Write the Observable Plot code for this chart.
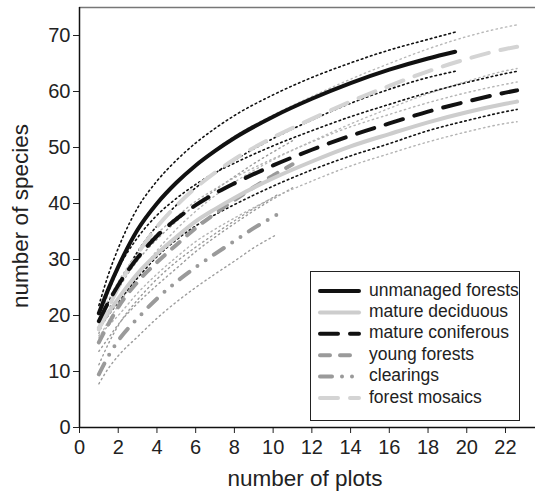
<!DOCTYPE html>
<html><head><meta charset="utf-8">
<script src="https://cdn.jsdelivr.net/npm/d3@7"></script>
<script src="https://cdn.jsdelivr.net/npm/@observablehq/plot@0.6"></script>
<style>
html,body{margin:0;padding:0;background:#fff;}
#chart{width:535px;height:493px;}
</style></head><body><div id="chart"></div>
<script>
// ---- data ----
const xTicks = [0, 2, 4, 6, 8, 10, 12, 14, 16, 18, 20, 22];
const yTicks = [0, 10, 20, 30, 40, 50, 60, 70];
const xLabel = "number of plots";
const yLabel = "number of species";

const seriesNames = ["unmanaged forests", "mature deciduous", "mature coniferous", "young forests", "clearings", "forest mosaics"];

const xUnmanaged = [1, 1.5, 2, 3, 4, 5, 6, 7, 8, 10, 12, 14, 16, 18, 19.4];
const xFull      = [1, 1.5, 2, 3, 4, 5, 6, 7, 8, 10, 12, 14, 16, 18, 20, 22, 22.6];
const xYoung     = [1, 1.5, 2, 3, 4, 5, 6, 7, 8, 9, 10, 11];
const xClearings = [1, 1.5, 2, 3, 4, 5, 6, 7, 8, 9, 10, 10.2];

const unmanagedMean = [20.4, 24.8, 28.7, 35.3, 40.0, 43.7, 46.8, 49.4, 51.7, 55.5, 58.7, 61.5, 63.9, 65.9, 67.1];
const unmanagedHi   = [21.8, 27.4, 32.0, 39.2, 44.0, 47.7, 50.8, 53.4, 55.7, 59.4, 62.5, 65.1, 67.4, 69.3, 70.6];
const unmanagedLo   = [19.0, 22.4, 25.4, 31.4, 36.0, 39.7, 42.8, 45.4, 47.7, 51.6, 54.9, 57.9, 60.4, 62.5, 63.6];

const deciduousMean = [17.8, 20.5, 23.0, 27.5, 31.0, 34.0, 36.8, 39.0, 41.0, 44.5, 47.5, 50.2, 52.4, 54.5, 56.3, 57.8, 58.2];
const deciduousHi   = [19.2, 22.8, 26.0, 31.0, 34.6, 37.6, 40.4, 42.6, 44.6, 48.0, 51.0, 53.7, 55.9, 58.0, 59.8, 61.3, 61.7];
const deciduousLo   = [16.4, 18.2, 20.0, 24.0, 27.4, 30.4, 33.2, 35.4, 37.4, 41.0, 44.0, 46.7, 48.9, 51.0, 52.8, 54.3, 54.6];

const coniferousMean = [19.0, 22.4, 25.4, 30.3, 34.2, 37.2, 39.7, 41.8, 43.6, 46.8, 49.6, 52.1, 54.3, 56.4, 58.2, 59.8, 60.2];
const coniferousHi   = [20.4, 24.7, 28.4, 33.9, 37.9, 40.9, 43.4, 45.5, 47.2, 50.3, 53.0, 55.5, 57.7, 59.8, 61.6, 63.2, 63.6];
const coniferousLo   = [17.6, 20.1, 22.4, 26.7, 30.5, 33.5, 36.0, 38.0, 39.8, 43.1, 46.0, 48.5, 50.7, 53.0, 54.8, 56.4, 56.8];

const youngMean = [15.2, 18.5, 21.5, 26.0, 29.5, 32.6, 35.6, 38.2, 40.6, 42.9, 45.0, 47.0];
const youngHi   = [16.8, 21.0, 24.6, 29.8, 33.6, 36.8, 39.8, 42.4, 44.8, 47.1, 49.2, 51.2];
const youngLo   = [13.6, 16.0, 18.4, 22.2, 25.4, 28.4, 31.4, 34.0, 36.4, 38.7, 40.8, 42.8];

const clearingsMean = [9.5, 12.8, 15.5, 19.5, 23.0, 26.0, 28.6, 31.0, 33.3, 35.6, 37.6, 38.0];
const clearingsHi   = [11.2, 15.0, 18.2, 22.8, 26.5, 29.6, 32.2, 34.6, 36.9, 39.1, 41.1, 41.5];
const clearingsLo   = [7.8, 10.6, 12.8, 16.2, 19.5, 22.4, 25.0, 27.4, 29.7, 32.1, 34.1, 34.5];

const mosaicsMean = [17.5, 21.5, 25.0, 31.0, 35.8, 39.6, 42.8, 45.5, 47.9, 51.8, 55.1, 58.2, 61.0, 63.6, 65.8, 67.6, 68.0];
const mosaicsHi   = [19.0, 24.0, 28.2, 35.0, 40.0, 43.8, 47.0, 49.6, 52.0, 55.8, 59.1, 62.2, 65.0, 67.6, 69.8, 71.5, 71.9];
const mosaicsLo   = [16.0, 19.0, 21.8, 27.0, 31.6, 35.4, 38.6, 41.4, 43.8, 47.8, 51.1, 54.2, 57.0, 59.6, 61.8, 63.7, 64.1];

// ---- assemble ----
const seriesData = {
  "unmanaged forests": [xUnmanaged, unmanagedMean, unmanagedLo, unmanagedHi],
  "mature deciduous": [xFull, deciduousMean, deciduousLo, deciduousHi],
  "mature coniferous": [xFull, coniferousMean, coniferousLo, coniferousHi],
  "young forests": [xYoung, youngMean, youngLo, youngHi],
  "clearings": [xClearings, clearingsMean, clearingsLo, clearingsHi],
  "forest mosaics": [xFull, mosaicsMean, mosaicsLo, mosaicsHi]
};

const styles = {
  "unmanaged forests": {stroke: "#111", dash: null, band: "#111"},
  "mature deciduous": {stroke: "#cdcdcd", dash: null, band: "#b4b4b4"},
  "mature coniferous": {stroke: "#111", dash: "18,12", band: "#111"},
  "young forests": {stroke: "#9a9a9a", dash: "10,10", band: "#9c9c9c"},
  "clearings": {stroke: "#9a9a9a", dash: "12,10,0,10,0,10", band: "#9c9c9c"},
  "forest mosaics": {stroke: "#d4d4d4", dash: "18,12", band: "#b8b8b8"}
};

function rows(name, which) {
  const [xs, mean, lo, hi] = seriesData[name];
  const ys = which === "mean" ? mean : which === "lo" ? lo : hi;
  return xs.map((x, i) => ({x, y: ys[i], series: name}));
}

const drawOrder = ["clearings", "young forests", "mature deciduous", "forest mosaics", "mature coniferous", "unmanaged forests"];

const marks = [];
// confidence bands (dotted)
for (const name of drawOrder) {
  const st = styles[name];
  const dark = st.band === "#111";
  for (const w of ["lo", "hi"]) {
    marks.push(Plot.line(rows(name, w), {
      x: "x", y: "y", curve: "monotone-x",
      stroke: st.band, strokeWidth: dark ? 1.6 : 1.4,
      strokeDasharray: dark ? "1.6,3.2" : "1.4,3.4"
    }));
  }
}
// mean curves
for (const name of drawOrder) {
  const st = styles[name];
  marks.push(Plot.line(rows(name, "mean"), {
    x: "x", y: "y", curve: "monotone-x",
    stroke: st.stroke, strokeWidth: 4,
    strokeLinecap: "round",
    strokeDasharray: st.dash || undefined
  }));
}

const chart = Plot.plot({
  width: 535,
  height: 493,
  marginLeft: 79,
  marginRight: 0,
  marginTop: 7,
  marginBottom: 66,
  style: {fontFamily: "'Liberation Sans', Arial, sans-serif", background: "#fff", color: "#222"},
  x: {domain: [0, 23.55], ticks: xTicks},
  y: {domain: [0, 75], ticks: yTicks},
  marks: [
    Plot.ruleY([75], {stroke: "#777", strokeWidth: 1.5}),
    ...marks,
    Plot.axisX({ticks: xTicks, tickSize: 6, tickPadding: 6, fontSize: 20, label: null, stroke: "#222"}),
    Plot.axisY({ticks: yTicks, tickSize: 6, tickPadding: 3, fontSize: 20, label: null, stroke: "#222"}),
    Plot.ruleY([0], {stroke: "#111", strokeWidth: 1.5}),
    Plot.ruleX([0], {stroke: "#111", strokeWidth: 1.5})
  ]
});

document.getElementById("chart").appendChild(chart);

// axis titles and legend
const svg = d3.select(chart);
svg.append("text")
  .attr("x", 305).attr("y", 480)
  .attr("text-anchor", "middle").attr("dominant-baseline", "middle")
  .attr("font-size", 22.5).attr("fill", "#222")
  .text(xLabel);
svg.append("text")
  .attr("transform", "translate(22,216) rotate(-90)")
  .attr("text-anchor", "middle").attr("dominant-baseline", "middle")
  .attr("font-size", 22.5).attr("fill", "#222")
  .text(yLabel);

const lg = svg.append("g").attr("text-anchor", "start");
lg.append("rect").attr("x", 310.5).attr("y", 271.5).attr("width", 209).attr("height", 149)
  .attr("fill", "#fff").attr("stroke", "#222").attr("stroke-width", 1);
seriesNames.forEach((name, i) => {
  const y = 291 + i * 21.4;
  const st = styles[name];
  lg.append("line").attr("x1", 320).attr("x2", 359).attr("y1", y).attr("y2", y)
    .attr("stroke", st.stroke).attr("stroke-width", 4).attr("stroke-linecap", "round")
    .attr("stroke-dasharray", st.dash);
  lg.append("text").attr("x", 369).attr("y", y)
    .attr("text-anchor", "start")
    .attr("dominant-baseline", "middle").attr("font-size", 17.5).attr("fill", "#222")
    .text(name);
});
</script></body></html>
